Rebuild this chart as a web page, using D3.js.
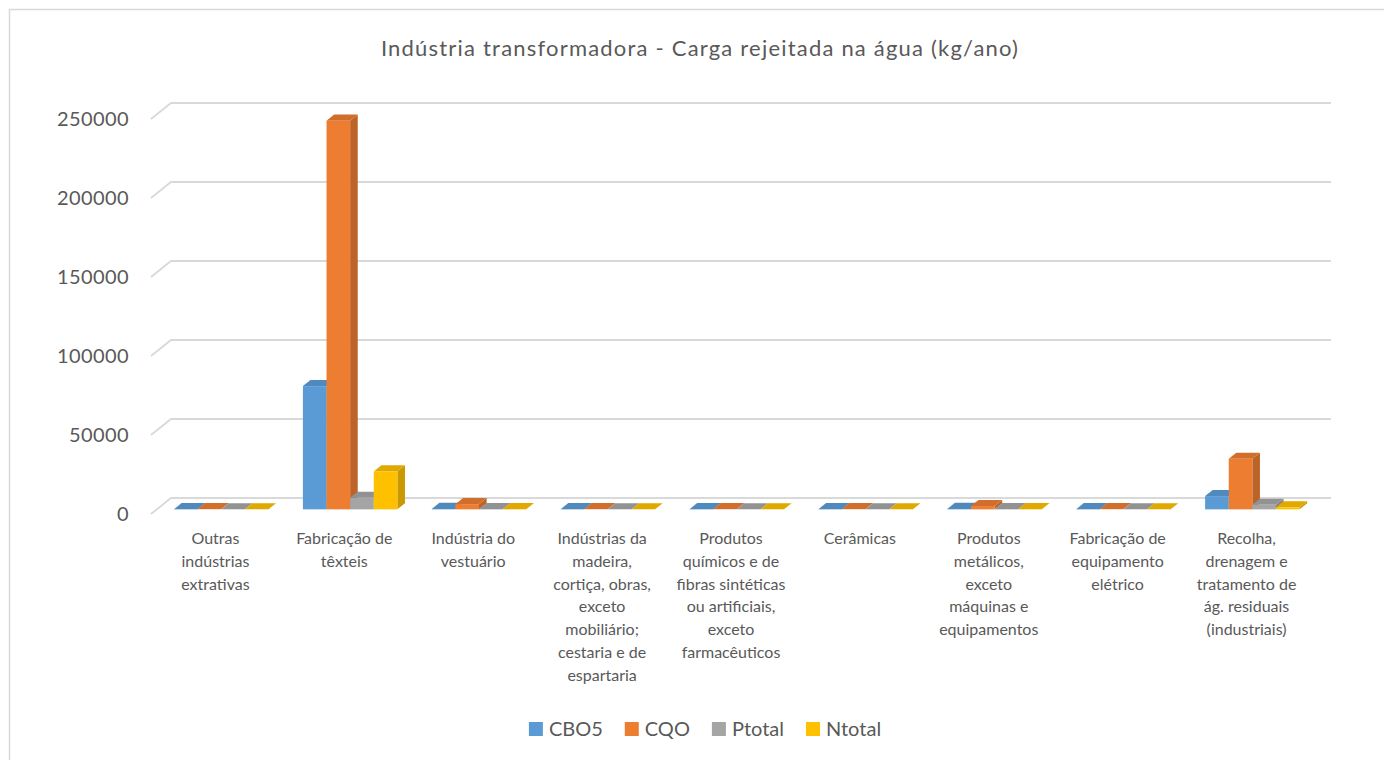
<!DOCTYPE html>
<html>
<head>
<meta charset="utf-8">
<script src="https://cdn.jsdelivr.net/npm/d3@7"></script>
<style>
  body { margin: 0; background: #fff; }
  text { font-family: Lato, "Open Sans", sans-serif; fill: #595959; }
</style>
</head>
<body>
<svg width="1384" height="760"></svg>
<script>
var categories = [
  ["Outras", "indústrias", "extrativas"],
  ["Fabricação de", "têxteis"],
  ["Indústria do", "vestuário"],
  ["Indústrias da", "madeira,", "cortiça, obras,", "exceto", "mobiliário;", "cestaria e de", "espartaria"],
  ["Produtos", "químicos e de", "fibras sintéticas", "ou artificiais,", "exceto", "farmacêuticos"],
  ["Cerâmicas"],
  ["Produtos", "metálicos,", "exceto", "máquinas e", "equipamentos"],
  ["Fabricação de", "equipamento", "elétrico"],
  ["Recolha,", "drenagem e", "tratamento de", "ág. residuais", "(industriais)"]
];
var series = ["CBO5", "CQO", "Ptotal", "Ntotal"];
var colors = ["#5B9BD5", "#ED7D31", "#A5A5A5", "#FFC000"];
var cbo5   = [100, 78000, 300, 100, 100, 100, 300, 100, 8400];
var cqo    = [150, 246000, 3300, 150, 150, 150, 2100, 150, 32000];
var ptotal = [50, 7300, 100, 50, 50, 50, 100, 50, 2900];
var ntotal = [50, 24000, 100, 50, 50, 50, 100, 50, 1300];
var yTicks = [0, 50000, 100000, 150000, 200000, 250000];
var title = "Indústria transformadora - Carga rejeitada na água (kg/ano)";

var values = [cbo5, cqo, ptotal, ntotal];

var svg = d3.select("svg"),
    width = +svg.attr("width"),
    height = +svg.attr("height");

// chart border
svg.append("rect")
    .attr("x", 9.5).attr("y", 9.5)
    .attr("width", 1400).attr("height", 800)
    .attr("fill", "#fff")
    .attr("stroke", "#d9d9d9")
    .attr("stroke-width", 1.5);

// 3d depth offset of the back wall
var depthX = 20, depthY = -16;

var x = d3.scaleBand()
    .domain(d3.range(categories.length))
    .range([151, 1311]);

var step = x.step();
var groupW = step * 0.733;

var xs = d3.scaleBand()
    .domain(series)
    .range([(step - groupW) / 2, (step + groupW) / 2]);

var y = d3.scaleLinear()
    .domain([0, 250000])
    .range([514, 119]);

// title
svg.append("text")
    .attr("x", 700).attr("y", 56)
    .attr("text-anchor", "middle")
    .style("font-size", "22px")
    .style("letter-spacing", "1.2px")
    .text(title);

// gridlines on back wall and left side wall
var grid = svg.append("g")
    .attr("stroke", "#d9d9d9")
    .attr("stroke-width", 1.8)
    .attr("fill", "none");

grid.selectAll("path")
  .data(yTicks)
  .enter().append("path")
    .attr("d", function(d) {
      var x0 = x.range()[0], x1 = x.range()[1], yy = y(d);
      return "M" + x0 + "," + yy + "L" + (x0 + depthX) + "," + (yy + depthY) +
             "L" + (x1 + depthX) + "," + (yy + depthY);
    });

// y tick labels
svg.append("g").selectAll("text")
  .data(yTicks)
  .enter().append("text")
    .attr("x", 129)
    .attr("y", function(d) { return y(d); })
    .attr("dy", "0.35em")
    .attr("text-anchor", "end")
    .style("font-size", "20px")
    .style("letter-spacing", "0.4px")
    .text(function(d) { return d; });

// bars: front face sits at f1 of the depth, back at f2
var f1 = 0.29, f2 = 0.67;
var bdx = depthX * (f2 - f1), bdy = depthY * (f2 - f1);

var bars = svg.append("g");

categories.forEach(function(c, i) {
  series.forEach(function(s, j) {
    var v = values[j][i];
    var x0 = x(i) + xs(s) + depthX * f1;
    var x1 = x0 + xs.bandwidth();
    var y0 = y(0) + depthY * f1;
    var y1 = y(v) + depthY * f1;
    var base = d3.color(colors[j]);
    var g = bars.append("g");
    // side
    g.append("path")
      .attr("d", "M" + x1 + "," + y1 + "L" + (x1 + bdx) + "," + (y1 + bdy) +
                 "L" + (x1 + bdx) + "," + (y0 + bdy) + "L" + x1 + "," + y0 + "Z")
      .attr("fill", base.darker(0.65));
    // top
    g.append("path")
      .attr("d", "M" + x0 + "," + y1 + "L" + (x0 + bdx) + "," + (y1 + bdy) +
                 "L" + (x1 + bdx) + "," + (y1 + bdy) + "L" + x1 + "," + y1 + "Z")
      .attr("fill", base.darker(0.35));
    // front
    g.append("rect")
      .attr("x", x0).attr("y", y1)
      .attr("width", xs.bandwidth())
      .attr("height", Math.max(0, y0 - y1))
      .attr("fill", base);
  });
});

// category labels
var labels = svg.append("g");
categories.forEach(function(c, i) {
  var t = labels.append("text")
    .attr("x", x(i) + step / 2)
    .attr("y", 544)
    .attr("text-anchor", "middle")
    .style("font-size", "16px");
  t.selectAll("tspan")
    .data(c)
    .enter().append("tspan")
      .attr("x", x(i) + step / 2)
      .attr("dy", function(d, k) { return k === 0 ? 0 : 22.8; })
      .text(function(d) { return d; });
});

// legend
var legend = svg.append("g");
var lx = 0;
series.forEach(function(s, j) {
  var g = legend.append("g");
  g.append("rect")
    .attr("x", 0).attr("y", -14)
    .attr("width", 14).attr("height", 14)
    .attr("fill", colors[j]);
  var t = g.append("text")
    .attr("x", 20).attr("y", 0)
    .style("font-size", "20px")
    .text(s);
  var w = 20 + t.node().getComputedTextLength();
  g.attr("transform", "translate(" + lx + ",0)");
  lx += w + 22;
});
lx -= 22;
legend.attr("transform", "translate(" + (705 - lx / 2) + ",736)");
</script>
</body>
</html>
